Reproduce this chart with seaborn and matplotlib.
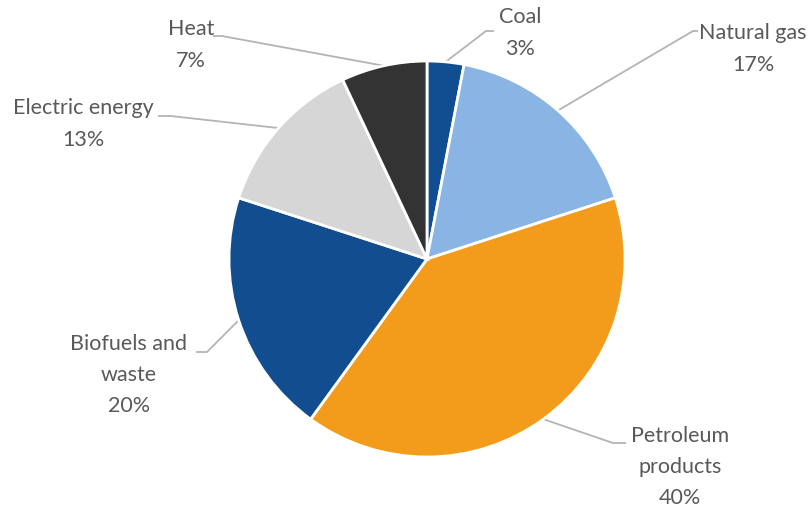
import numpy as np
import matplotlib
matplotlib.use("Agg")
import matplotlib.pyplot as plt
import seaborn as sns

# Final energy consumption by source, %
sources = ["Coal", "Natural gas", "Petroleum products", "Biofuels and waste",
           "Electric energy", "Heat"]
shares = [3, 17, 40, 20, 13, 7]
label_text = ["Coal", "Natural gas", "Petroleum\nproducts", "Biofuels and\nwaste",
              "Electric energy", "Heat"]
colors = ["#114e91", "#8ab4e3", "#f39c1c", "#124e8f", "#d6d6d6", "#333333"]

sns.set_theme(style="white")
plt.rcParams["font.family"] = ["Lato", "DejaVu Sans"]

W, H = 811, 509
fig = plt.figure(figsize=(W / 100, H / 100), dpi=100)
ax = fig.add_axes([0, 0, 1, 1])

cx, cy, r = 427, H - 259, 198
wedges, _ = ax.pie(shares, colors=colors, startangle=90, counterclock=False,
                   center=(cx, cy), radius=r,
                   wedgeprops=dict(edgecolor="white", linewidth=2))
ax.set_xlim(0, W)
ax.set_ylim(0, H)
ax.set_aspect("equal")
ax.axis("off")

# label block centre (x, y from top) and leader-line elbow (x, y from top), tail length
label_pos = [(520, 33), (753, 49), (680, 467), (129, 375), (83, 124), (191, 45)]
elbows = [((486, 31), 8), ((693, 31), 5), ((613, 443), 13),
          ((207, 352), -11), ((171, 116), -13), ((222, 36), -9)]

line_col = "#b4b4b4"
for w, ((ex, ey), tail) in zip(wedges, elbows):
    mid = np.deg2rad((w.theta1 + w.theta2) / 2)
    sx, sy = cx + r * np.cos(mid), cy + r * np.sin(mid)
    ey_d = H - ey
    ax.plot([sx, ex, ex + tail], [sy, ey_d, ey_d], color=line_col, lw=1.3,
            solid_capstyle="butt", zorder=0)

for txt, share, (tx, ty) in zip(label_text, shares, label_pos):
    ax.text(tx, H - ty, f"{txt}\n{share}%", ha="center", va="center",
            fontsize=15.5, color="#595959", linespacing=1.69)

fig.savefig("out.png", dpi=100, facecolor="white")
